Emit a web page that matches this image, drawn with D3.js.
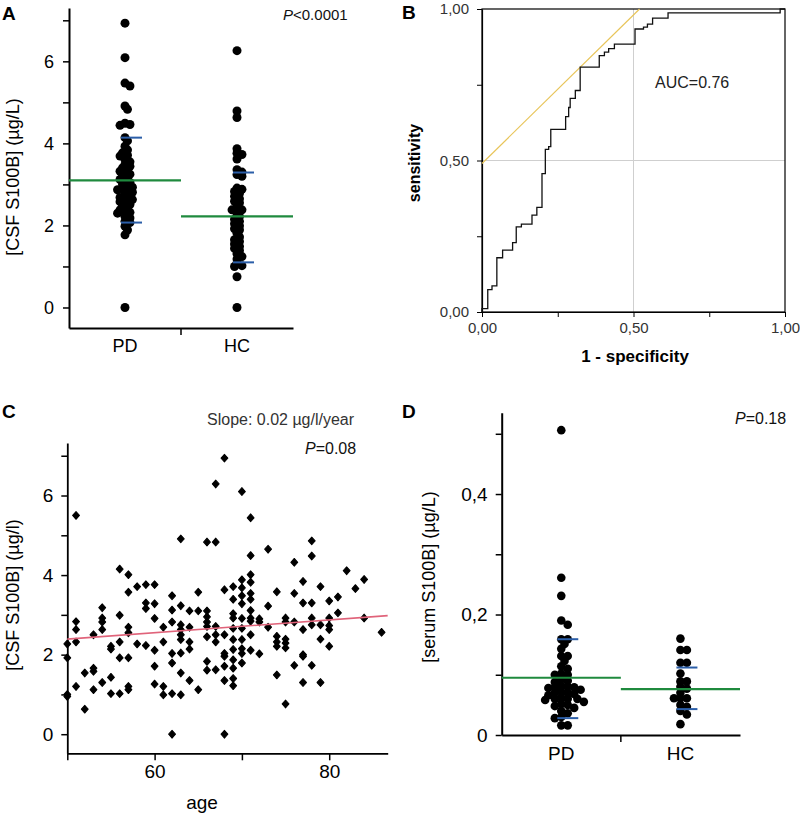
<!DOCTYPE html>
<html><head><meta charset="utf-8">
<script src="https://cdn.jsdelivr.net/npm/d3@7"></script>
<style>
body{margin:0;background:#fff;}
svg{display:block;font-family:"Liberation Sans",Arial,sans-serif;}
</style></head>
<body><svg id="c" width="800" height="818"></svg>
<script>
// ---------- DATA ----------
const groups = ["PD", "HC"];

// Panel A: CSF S100B (µg/L)
const csfPD = [6.93,6.09,5.47,5.40,4.91,4.83,4.49,4.46,4.44,4.14,4.06,3.93,3.84,3.77,3.71,3.69,3.61,3.55,3.49,3.44,3.40,3.36,3.32,3.28,3.25,3.20,3.16,3.12,3.08,3.05,3.00,2.95,2.93,2.89,2.87,2.83,2.81,2.75,2.71,2.68,2.65,2.63,2.58,2.55,2.51,2.47,2.42,2.38,2.34,2.32,2.30,2.22,2.18,2.10,2.07,1.98,1.89,1.77,0.0];
const csfHC = [6.26,4.79,4.63,3.87,3.76,3.73,3.62,3.36,3.30,3.24,3.20,2.91,2.88,2.83,2.78,2.71,2.65,2.59,2.55,2.45,2.38,2.38,2.30,2.22,2.15,2.10,2.04,1.99,1.92,1.89,1.81,1.72,1.65,1.61,1.55,1.49,1.44,1.39,1.31,1.24,1.18,1.08,1.02,1.00,0.75,0.0];
const csfMean = [3.10, 2.22];
const csfUpper = [4.14, 3.29];
const csfLower = [2.07, 1.10];
const pTextA = "<0.0001";

// Panel B: ROC curve
const rocFPR = [0,0,0.019,0.033,0.049,0.068,0.101,0.113,0.130,0.165,0.181,0.198,0.209,0.220,0.227,0.276,0.286,0.291,0.308,0.324,0.387,0.404,0.418,0.437,0.505,0.533,0.546,0.563,0.614,0.984,1];
const rocTPR = [0,0.011,0.074,0.086,0.179,0.204,0.229,0.281,0.290,0.320,0.345,0.457,0.537,0.546,0.603,0.645,0.675,0.705,0.731,0.808,0.846,0.858,0.869,0.884,0.934,0.940,0.950,0.970,0.987,1.0,1.0];
const tangentX = [0, 0.52];
const tangentY = [0.49, 1.0];
const aucText = "AUC=0.76";

// Panel C: CSF S100B vs age
const ageC = [50,50,50,50, 51,51,51,51,51, 52,52, 53,53,53,53, 54,54,54,54,54, 55,55,55,55, 56,56,56,56,56, 57,57,57,57,57,57,57, 58,58, 59,59,59,59, 60,60,60,60,60,60, 61,61,61,61, 62,62,62,62,62,62,62, 63,63,63,63,63,63,63,63,63, 64,64,64,64,64, 65,65,65, 66,66,66,66,66,66,66,66, 67,67,67,67,67,67, 68,68,68,68,68,68,68,68, 69,69,69,69,69,69,69,69,69,69,69, 70,70,70,70,70,70,70,70,70,70,70, 71,71,71,71,71,71,71,71,71,71,71, 72,72,72, 73,73,73, 74,74,74,74,74, 75,75,75,75,75,75, 76,76,76,76, 77,77,77,77,77,77, 78,78,78,78,78,78, 79,79,79,79, 80,80,80,80,80, 81,81, 82, 83, 84,84, 86];
const csfC = [2.27,1.92,1.0,0.95, 5.5,2.83,2.63,2.32,1.2, 1.54,0.63, 2.5,1.66,1.58,1.12, 3.18,2.92,2.82,2.63,1.3, 2.21,2.14,1.43,1.02, 4.15,2.99,2.32,1.92,1.02, 4.01,3.57,2.69,2.55,1.92,1.2,1.12, 3.71,2.27, 3.76,3.3,3.16,2.23, 3.76,3.28,2.91,2.11,1.71,1.26, 2.69,2.32,1.2,0.99, 3.48,3.12,2.82,2.03,1.79,1.02,0.0, 4.91,3.23,2.75,2.63,2.5,2.38,2.04,1.54,0.99, 3.1,2.69,2.32,2.14,1.35, 3.57,3.1,1.12, 4.83,3.1,2.95,2.82,2.71,2.45,1.83,1.61, 6.29,4.83,2.71,2.5,2.32,1.62, 6.94,3.63,2.5,2.03,1.96,1.71,1.35,0.0, 3.71,3.39,3.03,2.92,2.66,2.38,2.13,1.87,1.66,1.4,1.22, 6.1,3.88,3.68,3.48,3.28,2.91,2.66,2.38,2.15,2.03,1.79, 5.44,4.49,4.01,3.82,3.54,3.39,3.11,2.92,2.84,2.5,2.11, 2.9,2.82,2.02, 4.65,3.22,2.69, 3.58,2.46,2.32,2.21,1.49, 2.92,2.82,2.39,2.29,2.17,0.76, 4.32,3.54,2.82,1.73, 3.84,3.3,2.63,2.0,1.96,1.3, 4.86,4.48,3.3,2.92,2.75,1.73, 3.71,2.75,2.39,1.3, 3.35,2.92,2.73,2.63,2.21, 3.45,3.05, 4.11, 3.66, 3.89,2.92, 2.56];
const regAge = [50, 86.7];
const regVal = [2.39, 2.98];
const slopeText = "Slope: 0.02 µg/l/year";
const pTextC = "=0.08";

// Panel D: serum S100B (µg/L)
const serPD = [0.506,0.261,0.231,0.19,0.183,0.159,0.159,0.151,0.143,0.131,0.131,0.123,0.114,0.110,0.102,0.100,0.100,0.093,0.090,0.088,0.082,0.080,0.079,0.079,0.078,0.075,0.072,0.070,0.070,0.068,0.066,0.062,0.060,0.060,0.060,0.058,0.055,0.052,0.050,0.048,0.045,0.040,0.036,0.030,0.028,0.016,0.016];
const serHC = [0.160,0.141,0.141,0.120,0.120,0.102,0.089,0.089,0.080,0.077,0.070,0.061,0.061,0.061,0.050,0.047,0.040,0.034,0.018];
const serMean = [0.095, 0.076];
const serUpper = [0.159, 0.112];
const serLower = [0.028, 0.043];
const pTextD = "=0.18";

// ---------- DRAW ----------
const svg = d3.select("#c");
const FONT = '"Liberation Sans",Arial,sans-serif';
const GREEN = "#1f8a3e", BLUE = "#2b5ea8";

function styleAxis(g, fs, sw) {
  g.selectAll("text").attr("font-size", fs).attr("font-family", FONT).attr("fill", "#000");
  g.select(".domain").attr("stroke-width", sw).attr("stroke", "#000");
  g.selectAll(".tick line").attr("stroke-width", 1.5).attr("stroke", "#000");
}

function swarm(vals, y, cx, minD, step) {
  const pts = vals.map(v => ({v, y: y(v)})).sort((a, b) => a.y - b.y);
  const placed = [];
  for (const p of pts) {
    let off = 0;
    for (let n = 0; n < 60; n++) {
      off = n === 0 ? 0 : (n % 2 ? 1 : -1) * Math.ceil(n / 2) * step;
      if (!placed.some(q => Math.hypot(q.off - off, q.y - p.y) < minD)) break;
    }
    p.off = off; p.x = cx + off; placed.push(p);
  }
  return pts;
}

function letter(t, x, y) {
  svg.append("text").attr("x", x).attr("y", y).text(t)
    .attr("font-size", 19).attr("font-weight", "bold").attr("font-family", FONT);
}
function pLabel(rest, x, y, fs) {
  const t = svg.append("text").attr("x", x).attr("y", y).attr("font-size", fs).attr("font-family", FONT).attr("fill", "#111");
  t.append("tspan").attr("font-style", "italic").text("P");
  t.append("tspan").text(rest);
}
function yLabel(t, x, y, fs, bold) {
  svg.append("text").attr("transform", `translate(${x},${y}) rotate(-90)`)
    .attr("text-anchor", "middle").attr("dominant-baseline", "central")
    .attr("font-size", fs).attr("font-family", FONT).attr("font-weight", bold ? "bold" : "normal").text(t);
}

// dot-plot panel (A and D)
function dotPanel(o) {
  const y = d3.scaleLinear().domain(o.yDomain).range([o.bottom, o.top]);
  const x = d3.scaleBand().domain(groups).range([o.left, o.right]);
  const gy = svg.append("g").attr("transform", `translate(${o.left},0)`)
    .call(d3.axisLeft(y).tickValues(o.ticks).tickFormat(o.fmt).tickSize(6).tickSizeOuter(0).tickPadding(o.pad));
  styleAxis(gy, o.fs, 2);
  const gx = svg.append("g").attr("transform", `translate(0,${o.bottom})`)
    .call(d3.axisBottom(x).tickSize(0).tickSizeOuter(0).tickPadding(o.xpad));
  styleAxis(gx, o.fs, 2);
  gx.append("line").attr("x1", x("HC")).attr("x2", x("HC")).attr("y1", 0).attr("y2", 7).attr("stroke", "#000").attr("stroke-width", 1.5);
  [o.a, o.b].forEach((vals, i) => {
    const cx = x(groups[i]) + x.bandwidth() / 2;
    const pts = swarm(vals, y, cx, o.r * o.minK, o.r * o.stepK);
    svg.append("g").selectAll("circle").data(pts).join("circle")
      .attr("cx", d => d.x).attr("cy", d => d.y).attr("r", o.r).attr("fill", "#000");
  });
  groups.forEach((g, i) => {
    const cx = x(g) + x.bandwidth() / 2;
    svg.append("line").attr("x1", x(g)).attr("x2", x(g) + x.bandwidth())
      .attr("y1", y(o.mean[i])).attr("y2", y(o.mean[i])).attr("stroke", GREEN).attr("stroke-width", 2.2);
    [o.up[i], o.lo[i]].forEach(v => {
      svg.append("line").attr("x1", cx - 4).attr("x2", cx + 17)
        .attr("y1", y(v)).attr("y2", y(v)).attr("stroke", BLUE).attr("stroke-width", 2);
    });
  });
}

// ===== Panel A =====
letter("A", 2, 20);
dotPanel({yDomain: [-0.5, 7.3], top: 8, bottom: 328, left: 69, right: 293,
  ticks: d3.range(0, 8), fmt: d => d % 2 ? "" : d, pad: 9, xpad: 11, fs: 18, r: 4.5, minK: 0.85, stepK: 0.55,
  a: csfPD, b: csfHC, mean: csfMean, up: csfUpper, lo: csfLower});
pLabel(pTextA, 283, 20, 15);
yLabel("[CSF S100B] (µg/L)", 13, 177, 18);

// ===== Panel B =====
letter("B", 402, 19);
{
  const x = d3.scaleLinear().domain([0, 1]).range([482, 785]);
  const y = d3.scaleLinear().domain([0, 1]).range([312, 9]);
  const fmt = d => (d === 0.25 || d === 0.75) ? "" : d3.format(".2f")(d).replace(".", ",");
  svg.append("line").attr("x1", x(0.5)).attr("x2", x(0.5)).attr("y1", y(0)).attr("y2", y(1)).attr("stroke", "#cfcfcf");
  svg.append("line").attr("x1", x(0)).attr("x2", x(1)).attr("y1", y(0.5)).attr("y2", y(0.5)).attr("stroke", "#cfcfcf");
  svg.append("rect").attr("x", x(0)).attr("y", y(1)).attr("width", x(1) - x(0)).attr("height", y(0) - y(1))
    .attr("fill", "none").attr("stroke", "#000").attr("stroke-width", 1.2);
  const gy = svg.append("g").attr("transform", `translate(${x(0)},0)`)
    .call(d3.axisLeft(y).tickValues([0, .25, .5, .75, 1]).tickFormat(fmt).tickSize(5).tickSizeOuter(0).tickPadding(8));
  styleAxis(gy, 15, 1.2);
  const gx = svg.append("g").attr("transform", `translate(0,${y(0)})`)
    .call(d3.axisBottom(x).tickValues([0, .25, .5, .75, 1]).tickFormat(fmt).tickSize(5).tickSizeOuter(0).tickPadding(5));
  styleAxis(gx, 15, 1.2);
  [gx, gy].forEach(g => { g.selectAll("text").attr("fill", "#333"); g.selectAll(".tick line").attr("stroke-width", 1); });
  svg.append("line").attr("x1", x(tangentX[0])).attr("x2", x(tangentX[1]))
    .attr("y1", y(tangentY[0])).attr("y2", y(tangentY[1])).attr("stroke", "#e8c55a").attr("stroke-width", 1.2);
  const line = d3.line().x(d => x(d[0])).y(d => y(d[1])).curve(d3.curveStepAfter);
  svg.append("path").datum(rocFPR.map((f, i) => [f, rocTPR[i]])).attr("d", line)
    .attr("fill", "none").attr("stroke", "#111").attr("stroke-width", 1.3);
  svg.append("text").attr("x", 655).attr("y", 88).attr("font-size", 16).attr("font-family", FONT).attr("fill", "#222").text(aucText);
  yLabel("sensitivity", 414, 163, 16, true);
  svg.append("text").attr("x", 635).attr("y", 362).attr("text-anchor", "middle").attr("font-size", 17)
    .attr("font-weight", "bold").attr("font-family", FONT).text("1 - specificity");
}

// ===== Panel C =====
letter("C", 2, 418);
{
  const x = d3.scaleLinear().domain([50, 86.7]).range([67.3, 387.7]);
  const y = d3.scaleLinear().domain([-0.48, 7.32]).range([753.3, 443]);
  const gy = svg.append("g").attr("transform", `translate(${x(50)},0)`)
    .call(d3.axisLeft(y).tickValues(d3.range(0, 8)).tickFormat(d => d % 2 ? "" : d).tickSize(6).tickSizeOuter(0).tickPadding(8));
  styleAxis(gy, 19, 1.8);
  const gx = svg.append("g").attr("transform", `translate(0,${y(-0.48)})`)
    .call(d3.axisBottom(x).tickValues([50, 60, 70, 80]).tickFormat(d => (d === 60 || d === 80) ? d : "").tickSize(7).tickSizeOuter(0).tickPadding(4));
  styleAxis(gx, 19, 1.8);
  const sym = d3.symbol().type(d3.symbolDiamond2).size(30);
  svg.append("g").selectAll("path").data(ageC.map((a, i) => [a, csfC[i]])).join("path")
    .attr("transform", d => `translate(${x(d[0])},${y(d[1])}) scale(1,1.12)`).attr("d", sym)
    .attr("fill", "#000").attr("stroke", "#000").attr("stroke-width", 1).attr("stroke-linejoin", "round");
  svg.append("line").attr("x1", x(regAge[0])).attr("x2", x(regAge[1])).attr("y1", y(regVal[0])).attr("y2", y(regVal[1]))
    .attr("stroke", "#e0637a").attr("stroke-width", 1.6);
  svg.append("text").attr("x", 207).attr("y", 425).attr("font-size", 16).attr("font-family", FONT).attr("fill", "#333").text(slopeText);
  pLabel(pTextC, 305, 454, 16);
  yLabel("[CSF S100B] (µg/l)", 13, 595, 18);
  svg.append("text").attr("x", 202).attr("y", 809).attr("text-anchor", "middle").attr("font-size", 19).attr("font-family", FONT).text("age");
}

// ===== Panel D =====
letter("D", 402, 418);
dotPanel({yDomain: [0, 0.535], top: 412.7, bottom: 735, left: 501.7, right: 740,
  ticks: [0, .1, .2, .3, .4, .5], fmt: d => d === 0 ? "0" : (Math.round(d * 10) % 2 ? "" : d3.format(".1f")(d).replace(".", ",")),
  pad: 8, xpad: 12, fs: 19, r: 4.3, minK: 1.25, stepK: 0.75,
  a: serPD, b: serHC, mean: serMean, up: serUpper, lo: serLower});
pLabel(pTextD, 735, 424, 16);
yLabel("[serum S100B] (µg/L)", 429, 577, 18);
</script></body></html>
